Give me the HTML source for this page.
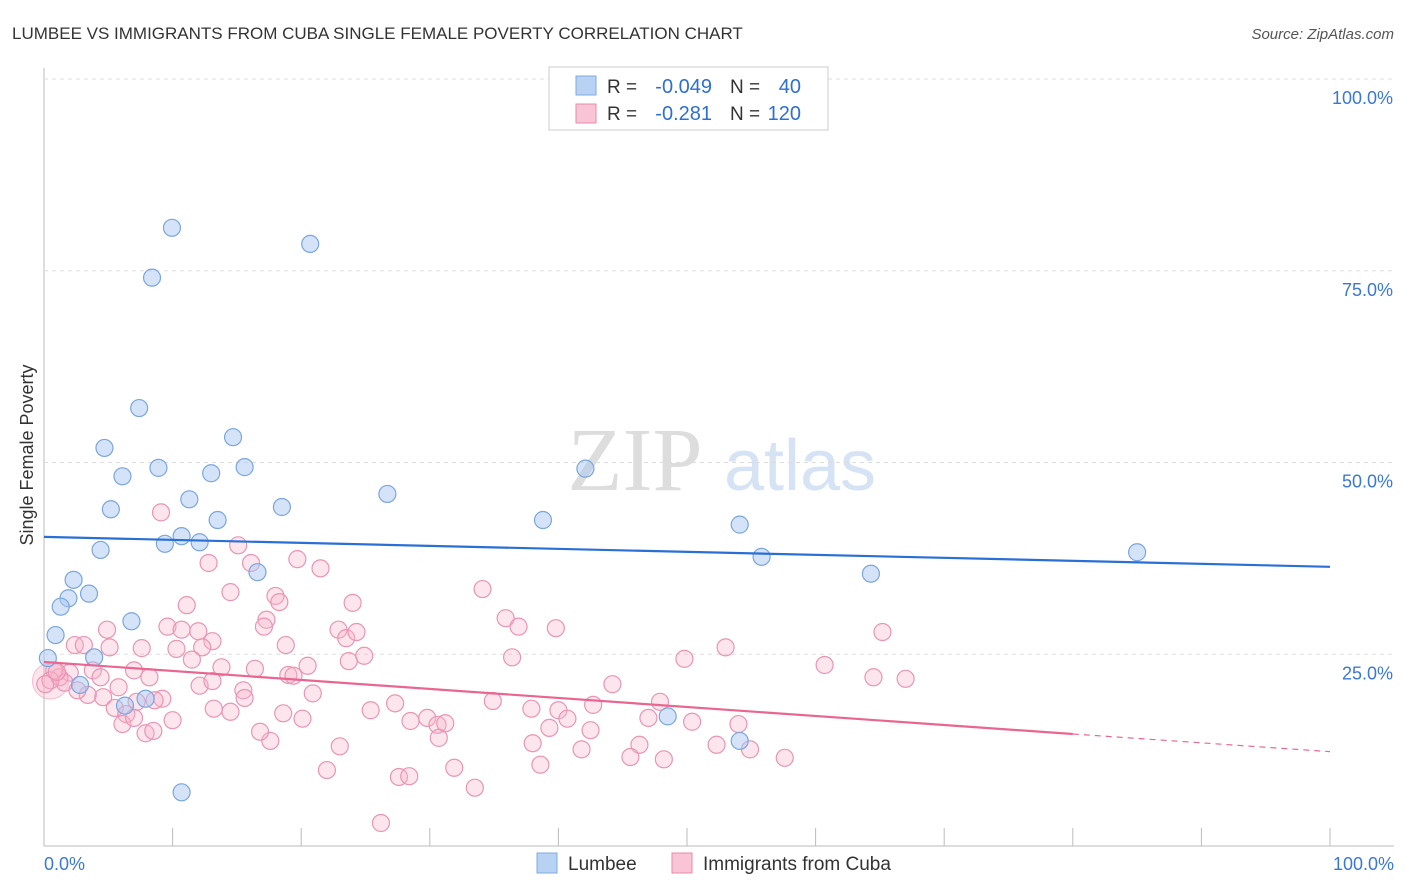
<!DOCTYPE html>
<html><head><meta charset="utf-8"><style>
body{margin:0;background:#fff;font-family:"Liberation Sans",sans-serif;}
#wrap{position:relative;width:1406px;height:892px;overflow:hidden;}
</style></head><body><div id="wrap">
<svg id="svg" width="1406" height="892" xmlns="http://www.w3.org/2000/svg" style="position:absolute;left:0;top:0">
<text x="12" y="39" font-size="17" fill="#333">LUMBEE VS IMMIGRANTS FROM CUBA SINGLE FEMALE POVERTY CORRELATION CHART</text>
<text x="1394" y="39" font-size="15" fill="#555" font-style="italic" text-anchor="end">Source: ZipAtlas.com</text>
<text x="33" y="455" font-size="18" fill="#333" text-anchor="middle" transform="rotate(-90 33 455)">Single Female Poverty</text>
<g><text x="635" y="490" font-size="90" fill="#ddd" font-family="Liberation Serif" text-anchor="middle">ZIP</text><text x="800" y="490" font-size="72" fill="#d6e3f5" text-anchor="middle">atlas</text></g>
<g id="grid"></g><g id="pts"></g><g id="trend"></g>
<g>
<rect x="549" y="67" width="279" height="63" fill="#fff" stroke="#ccc"/>
<rect x="576" y="76" width="20" height="19" fill="#b8d2f4" stroke="#7fa9e0"/>
<rect x="576" y="104" width="20" height="19" fill="#f8c4d6" stroke="#e88aab"/>
<text x="607" y="93" font-size="19" fill="#333">R =</text>
<text x="712" y="93" font-size="20" fill="#2d6fd3" text-anchor="end">-0.049</text>
<text x="730" y="93" font-size="19" fill="#333">N =</text>
<text x="801" y="93" font-size="20" fill="#2d6fd3" text-anchor="end">40</text>
<text x="607" y="120" font-size="19" fill="#333">R =</text>
<text x="712" y="120" font-size="20" fill="#2d6fd3" text-anchor="end">-0.281</text>
<text x="730" y="120" font-size="19" fill="#333">N =</text>
<text x="801" y="120" font-size="20" fill="#2d6fd3" text-anchor="end">120</text>
</g>
<g>
<rect x="537" y="853" width="20" height="20" fill="#b8d2f4" stroke="#7fa9e0"/>
<text x="568" y="870" font-size="19" fill="#333">Lumbee</text>
<rect x="672" y="853" width="20" height="20" fill="#f8c4d6" stroke="#e88aab"/>
<text x="703" y="870" font-size="19" fill="#333">Immigrants from Cuba</text>
</g>
</svg>
<script>
const lumbeeX=[9.95,20.7,8.4,7.4,14.7,4.7,8.9,13.0,15.6,6.1,11.3,5.2,18.5,26.7,13.5,10.7,9.4,12.1,4.4,38.8,42.1,54.1,55.8,64.3,85.0,16.6,2.3,1.9,1.3,3.5,6.8,0.9,0.3,3.9,2.8,6.3,7.9,48.5,54.1,10.7];
const lumbeeY=[80.6,78.5,74.1,57.1,53.3,51.9,49.3,48.6,49.4,48.2,45.2,43.9,44.2,45.9,42.5,40.4,39.4,39.6,38.6,42.5,49.2,41.9,37.7,35.5,38.3,35.7,34.7,32.3,31.2,32.9,29.3,27.5,24.5,24.6,21.0,18.3,19.2,16.9,13.7,7.0];
const cubaX=[9.1,15.1,12.8,19.7,21.5,16.1,34.1,24.0,11.1,18.0,18.3,17.3,17.1,14.5,35.9,36.9,39.8,65.2,4.9,9.6,10.7,12.0,13.1,5.1,2.4,3.1,7.6,10.3,12.3,18.8,22.9,23.5,24.3,24.9,23.7,36.4,49.8,53.0,60.7,64.5,67.0,11.5,3.8,7.0,13.8,16.4,20.5,2.0,1.2,1.6,0.8,0.5,8.2,5.8,12.1,15.5,20.9,19.0,19.4,4.6,3.4,9.2,8.6,7.2,5.5,6.4,14.5,15.6,13.2,10.0,18.6,20.1,25.4,27.3,28.5,29.8,30.6,31.2,34.9,37.9,40.0,40.7,42.7,44.2,47.9,47.0,50.4,54.0,6.1,7.9,8.5,17.6,23.0,30.7,39.3,38.0,41.8,42.5,46.3,45.6,48.2,52.3,54.9,57.6,22.0,27.6,28.4,31.9,33.5,38.6,26.2,0.1,1.0,2.6,4.4,7.0,13.1,16.8];
const cubaY=[43.5,39.2,36.9,37.4,36.2,36.9,33.5,31.7,31.4,32.6,31.8,29.5,28.6,33.1,29.7,28.6,28.4,27.9,28.2,28.6,28.2,28.0,26.7,25.9,26.2,26.2,25.8,25.7,25.9,26.2,28.2,27.1,27.9,24.8,24.1,24.6,24.4,25.9,23.6,22.0,21.8,24.3,22.9,22.9,23.3,23.1,23.5,22.6,22.0,21.3,22.9,21.6,22.0,20.7,20.9,20.3,19.9,22.3,22.2,19.4,19.7,19.2,19.0,18.8,18.0,17.2,17.5,19.3,17.9,16.4,17.3,16.6,17.7,18.6,16.3,16.7,15.8,16.0,18.9,17.9,17.7,16.6,18.4,21.1,18.8,16.7,16.2,15.9,15.9,14.7,15.0,13.7,13.0,14.1,15.4,13.4,12.6,15.1,13.2,11.6,11.3,13.2,12.6,11.5,9.9,9.0,9.1,10.2,7.6,10.6,3.0,21.1,22.7,20.3,22.0,16.7,21.5,14.9];
const yTicks=[25,50,75,100];
const xTickVals=[0,10,20,30,40,50,60,70,80,90,100];
const lumbeeTrend=[[0,40.3],[100,36.4]];
const cubaTrendSolid=[[0,24.0],[80,14.6]];
const cubaTrendDash=[[80,14.6],[100,12.3]];
const NS="http://www.w3.org/2000/svg";
const X0=44,X1=1330,Y0=846,Y100=79;
const sx=v=>X0+(X1-X0)*v/100, sy=v=>Y0-(Y0-Y100)*v/100;
function mk(t,a,p){const e=document.createElementNS(NS,t);for(const k in a)e.setAttribute(k,a[k]);p.appendChild(e);return e;}
const grid=document.getElementById('grid');
mk('line',{x1:44,y1:68,x2:44,y2:846,stroke:'#bbb'},grid);
mk('line',{x1:44,y1:846,x2:1394,y2:846,stroke:'#bbb'},grid);
yTicks.forEach(v=>{
 const l=mk('line',{x1:44,y1:sy(v),x2:1394,y2:sy(v),stroke:'#ddd','stroke-dasharray':'4,4'},grid);
 
 
 const t=mk('text',{x:1393,y:sy(v)+25,'font-size':18,fill:'#3a78d6','text-anchor':'end'},grid);
 t.textContent=v.toFixed(1)+'%';
 
 
});
xTickVals.forEach(v=>{
 const l=mk('line',{x1:sx(v),y1:828,x2:sx(v),y2:846,stroke:'#bbb'},grid);
 
 
});
[[0,'start',44],[100,'end',1394]].forEach(([v,a,x])=>{
 const t=mk('text',{x:x,y:870,'font-size':18,fill:'#3a78d6','text-anchor':a},grid);
 t.textContent=v.toFixed(1)+'%';
 
 
});
const pts=document.getElementById('pts');
const big=mk('circle',{cx:sx(0.5),cy:sy(21.5),r:18,fill:'rgba(244,170,196,0.3)',stroke:'rgba(232,138,171,0.5)'},pts);


cubaX.forEach((x,i)=>{
 const c=mk('circle',{cx:sx(x),cy:sy(cubaY[i]),r:8.5,fill:'rgba(246,180,204,0.35)',stroke:'#eb94b3','stroke-width':1.2},pts);
 
 
});
lumbeeX.forEach((x,i)=>{
 const c=mk('circle',{cx:sx(x),cy:sy(lumbeeY[i]),r:8.5,fill:'rgba(170,200,242,0.5)',stroke:'#7aa6e0','stroke-width':1.2},pts);
 
 
});
const tr=document.getElementById('trend');
let l1=mk('line',{x1:sx(lumbeeTrend[0][0]),y1:sy(lumbeeTrend[0][1]),x2:sx(lumbeeTrend[1][0]),y2:sy(lumbeeTrend[1][1]),stroke:'#2a6fd6','stroke-width':2.2},tr);


let l2=mk('line',{x1:sx(cubaTrendSolid[0][0]),y1:sy(cubaTrendSolid[0][1]),x2:sx(cubaTrendSolid[1][0]),y2:sy(cubaTrendSolid[1][1]),stroke:'#e8668f','stroke-width':2.2},tr);


let l3=mk('line',{x1:sx(cubaTrendDash[0][0]),y1:sy(cubaTrendDash[0][1]),x2:sx(cubaTrendDash[1][0]),y2:sy(cubaTrendDash[1][1]),stroke:'#e8668f','stroke-width':1.2,'stroke-dasharray':'6,5'},tr);


</script>
</div></body></html>
